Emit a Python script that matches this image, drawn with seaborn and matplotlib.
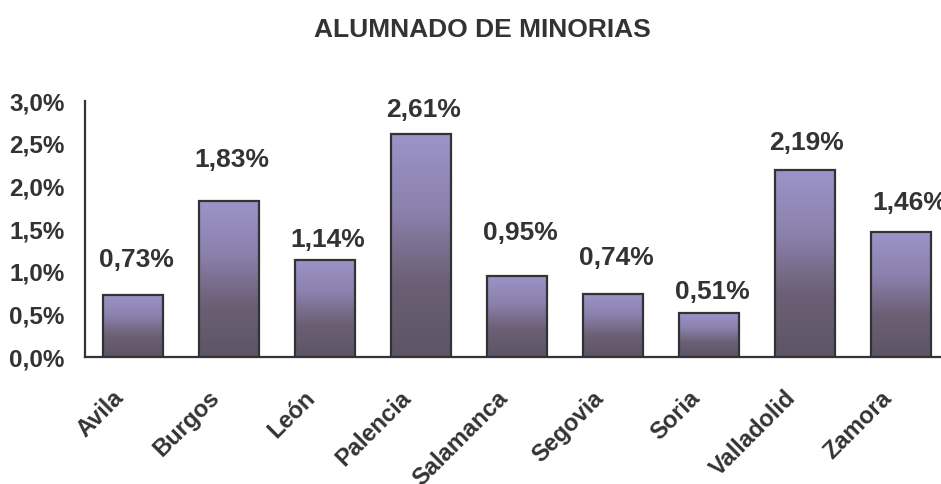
import matplotlib
matplotlib.use("Agg")
import matplotlib.pyplot as plt
import matplotlib.transforms as mtransforms
import seaborn as sns
import numpy as np
from matplotlib.colors import LinearSegmentedColormap
from matplotlib.ticker import FuncFormatter, FixedLocator

provincias = ["Avila", "Burgos", "León", "Palencia", "Salamanca",
              "Segovia", "Soria", "Valladolid", "Zamora"]
porcentajes = [0.73, 1.83, 1.14, 2.61, 0.95, 0.74, 0.51, 2.19, 1.46]
etiquetas = ["0,73%", "1,83%", "1,14%", "2,61%", "0,95%",
             "0,74%", "0,51%", "2,19%", "1,46%"]
# where each value label sits relative to its bar (labels were moved by hand)
desfase_etiquetas = [0.41, 0.48, 0.23, 0.28, 0.50, 0.42, 0.25, 0.32, 0.35]
desfase_x_etiquetas = [0.04, 0.03, 0.03, 0.03, 0.03, 0.03, 0.03, 0.02, 0.09]

sns.set_style("white")
plt.rcParams['font.family'] = ['Liberation Sans', 'DejaVu Sans']

gris = "#333333"
degradado = LinearSegmentedColormap.from_list(
    "barra", ["#5e5466", "#6c5f75", "#8c82ae", "#9c94c9"])

fig = plt.figure(figsize=(9.41, 4.84), dpi=100)
ax = fig.add_axes([85 / 941, 1 - 357 / 484, 864 / 941, 256 / 484])

sns.barplot(x=provincias, y=porcentajes, ax=ax, width=0.63,
            color="#9c94c9", edgecolor=gris, linewidth=1.6, zorder=3)

grad = np.linspace(0, 1, 256).reshape(-1, 1)
for p in ax.patches:
    x0, y0 = p.get_x(), p.get_y()
    w, h = p.get_width(), p.get_height()
    im = ax.imshow(grad, cmap=degradado, origin="lower", aspect="auto",
                   extent=[x0, x0 + w, y0, y0 + h], zorder=2)
    im.set_clip_path(p)
    p.set_facecolor("none")

for i, (v, txt, d, dx) in enumerate(zip(porcentajes, etiquetas,
                                        desfase_etiquetas, desfase_x_etiquetas)):
    ax.text(i + dx, v + d, txt, ha="center", va="center", fontsize=19,
            fontweight="bold", color=gris, clip_on=False)

ax.set_xlim(-0.5, len(provincias) - 0.5)
ax.set_ylim(0, 3.0)
ax.set_yticks(np.arange(0, 3.01, 0.5))
ax.yaxis.set_major_formatter(FuncFormatter(lambda y, _: f"{y:.1f}%".replace(".", ",")))

ax.xaxis.set_minor_locator(FixedLocator(np.arange(-0.5, len(provincias), 1)))
ax.tick_params(axis="x", which="major", length=0, pad=27)
ax.tick_params(axis="x", which="minor", length=6, width=1.6, color=gris, direction="out")
ax.tick_params(axis="y", length=6.5, width=1.6, color=gris, direction="out", pad=8)
desplazar = mtransforms.ScaledTranslation(-13 / 100, 0, fig.dpi_scale_trans)
for lab in ax.get_xticklabels():
    lab.set_rotation(45)
    lab.set_ha("right")
    lab.set_va("center")
    lab.set_rotation_mode("anchor")
    lab.set_fontsize(17)
    lab.set_fontweight("bold")
    lab.set_color(gris)
    lab.set_transform(lab.get_transform() + desplazar)
for lab in ax.get_yticklabels():
    lab.set_fontsize(17.5)
    lab.set_fontweight("bold")
    lab.set_color(gris)

sns.despine(ax=ax, top=True, right=True)
for s in ["left", "bottom"]:
    ax.spines[s].set_color(gris)
    ax.spines[s].set_linewidth(1.6)
ax.set_xlabel("")
ax.set_ylabel("")

fig.text(482 / 941, 1 - 30 / 484, "ALUMNADO DE MINORIAS", ha="center",
         va="center", fontsize=19, fontweight="bold", color=gris)

fig.savefig("out.png", dpi=100)
